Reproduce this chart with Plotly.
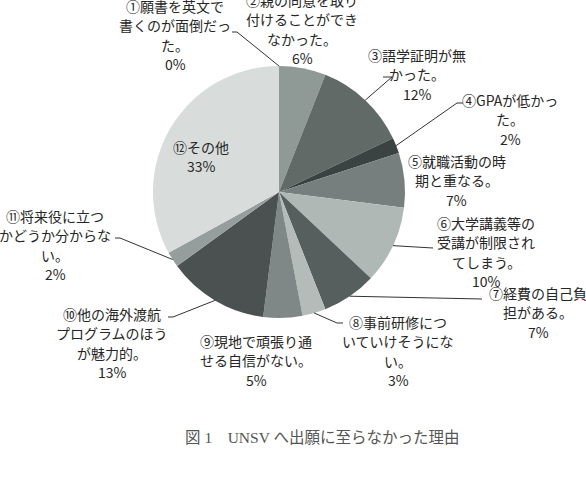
import math
import plotly.graph_objects as go

W, H = 586, 491

# ---- data ----
categories = [
    "①願書を英文で<br>書くのが面倒だっ<br>た。",
    "②親の同意を取り<br>付けることができ<br>なかった。",
    "③語学証明が無<br>かった。",
    "④GPAが低かっ<br>た。",
    "⑤就職活動の時<br>期と重なる。",
    "⑥大学講義等の<br>受講が制限され<br>てしまう。",
    "⑦経費の自己負<br>担がある。",
    "⑧事前研修につ<br>いていけそうにな<br>い。",
    "⑨現地で頑張り通<br>せる自信がない。",
    "⑩他の海外渡航<br>プログラムのほう<br>が魅力的。",
    "⑪将来役に立つ<br>かどうか分からな<br>い。",
    "⑫その他",
]
values = [0, 6, 12, 2, 7, 10, 7, 3, 5, 13, 2, 33]
colors = ["#c5cbc9", "#8f9a97", "#626a68", "#3b4342", "#767f7d", "#b0b8b6",
          "#575f5e", "#b4bbb9", "#7f8886", "#4a5150", "#959e9c", "#d8dcdb"]
title_text = "図 1　UNSV へ出願に至らなかった理由"

# ---- layout constants (pixels) ----
CX, CY, R = 279, 192, 126
label_pos = [(175, 6), (302, 0), (417, 55), (510, 100), (457, 161), (486, 223),
             (538, 293), (398, 322), (256, 341), (112, 314), (55, 216), (201, 147)]
line_step = 19.3
# leader-line bends
leaders = {0: [(237, 32), (232, 32)], 2: [(392, 77), (383, 77)],
           3: [(457, 103), (463, 103)], 5: [(433, 248)], 6: [(482, 299)],
           7: [(337, 323), (343, 323)], 9: [(173, 317), (168, 317)],
           10: [(120, 238), (115, 238)]}

def px(x):
    return x / W

def py(y):
    return 1 - y / H

fig = go.Figure(go.Pie(
    labels=[c.split("<br>")[0] for c in categories],
    values=values, sort=False, direction="clockwise", rotation=0,
    marker=dict(colors=colors, line=dict(width=0)),
    textinfo="none", hoverinfo="label+percent", showlegend=False,
    domain=dict(x=[px(CX - R), px(CX + R)], y=[py(CY + R), py(CY - R)]),
))

annotations = []
shapes = []
total = sum(values)
cum = 0
for i, (cat, v) in enumerate(zip(categories, values)):
    mid = (cum + v / 2) / total * 2 * math.pi
    cum += v
    lines = cat.split("<br>") + [f"{round(v / total * 100)}%"]
    lx, ly = label_pos[i]
    for j, t in enumerate(lines):
        annotations.append(dict(
            x=px(lx), y=py(ly + j * line_step), xref="paper", yref="paper",
            text=t, showarrow=False, xanchor="center", yanchor="middle",
            font=dict(family="Noto Sans CJK JP", size=14, color="#262626")))
    if i in leaders:
        ex = CX + R * math.sin(mid)
        ey = CY - R * math.cos(mid)
        pts = [(ex, ey)] + leaders[i]
        path = "M " + " L ".join(f"{px(a)},{py(b)}" for a, b in pts)
        shapes.append(dict(type="path", path=path, xref="paper", yref="paper",
                           line=dict(color="#333333", width=1)))

annotations.append(dict(
    x=px(322), y=py(437), xref="paper", yref="paper", text=title_text,
    showarrow=False, xanchor="center", yanchor="middle",
    font=dict(family="Liberation Serif, Noto Sans CJK JP", size=15.5, color="#555555")))

fig.update_layout(
    width=W, height=H, margin=dict(l=0, r=0, t=0, b=0),
    paper_bgcolor="white", plot_bgcolor="white",
    annotations=annotations, shapes=shapes,
)

fig.write_html("out.html")
